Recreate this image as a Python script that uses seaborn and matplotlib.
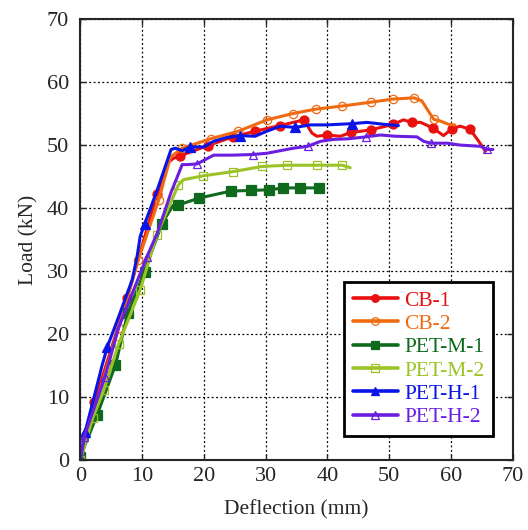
import numpy as np
import pandas as pd
import matplotlib
matplotlib.use("Agg")
import matplotlib.pyplot as plt
import seaborn as sns

# load-deflection curves (mm, kN)
cb1_x = [0, 2.3, 7.6, 12.4, 14.3, 15.1, 16.2, 20.6, 24.7, 28.3, 32.3, 36.2, 37.5, 38.3, 40.0, 42.1, 43.8, 47.0,
         50.7, 52.3, 53.7, 55.1, 57.1, 58.8, 60.2, 61.5, 63.1, 64.5, 65.6]
cb1_y = [0, 9.2, 25.7, 42.2, 47.3, 47.9, 48.3, 49.9, 51.3, 52.2, 53.1, 54.0, 51.9, 51.4, 51.6, 51.4, 52.0, 52.4,
         53.3, 54.0, 53.6, 53.6, 52.7, 51.5, 52.6, 53.0, 52.5, 50.6, 49.0]
cb1_mk = [0, 1, 2, 3, 6, 7, 8, 9, 10, 11, 14, 16, 17, 18, 20, 22, 24, 26]

cb2_x = [0, 2.0, 6.2, 9.4, 12.7, 14.6, 16.5, 21.1, 25.6, 30.2, 34.4, 38.1, 42.4, 47.0, 50.6, 54.0, 55.3, 57.2,
         58.3, 59.6, 60.6]
cb2_y = [0, 7.0, 21.0, 31.8, 41.3, 48.1, 49.5, 51.0, 52.2, 54.0, 55.0, 55.7, 56.2, 56.8, 57.3, 57.5, 57.0, 54.1,
         53.8, 53.3, 53.2]
cb2_mk = [0, 2, 3, 4, 6, 7, 8, 9, 10, 11, 12, 13, 14, 15, 17]

petm1_x = [0, 2.7, 5.7, 7.7, 10.4, 13.2, 15.0, 15.9, 19.3, 24.4, 27.6, 30.6, 32.9, 35.6, 38.7]
petm1_y = [0.5, 7.1, 15.1, 23.4, 29.9, 37.5, 40.4, 40.5, 41.6, 42.7, 42.8, 42.9, 43.2, 43.2, 43.2]
petm1_mk = [0, 1, 2, 3, 4, 5, 7, 8, 9, 10, 11, 12, 13, 14]

petm2_x = [0, 2.0, 3.8, 6.2, 9.7, 12.4, 15.9, 16.7, 19.8, 24.8, 29.4, 33.5, 38.3, 42.4, 43.7]
petm2_y = [0, 6.6, 11.1, 18.4, 27.0, 35.8, 43.7, 44.5, 45.1, 45.8, 46.6, 46.8, 46.8, 46.8, 46.4]
petm2_mk = [0, 1, 2, 3, 4, 5, 6, 8, 9, 10, 11, 12, 13]

peth1_x = [0, 0.8, 2.6, 3.5, 4.4, 6.5, 8.4, 9.2, 9.7, 10.4, 12.5, 14.7, 15.4, 16.5, 17.8, 20.0, 21.6, 23.7, 25.9,
           28.3, 30.2, 32.4, 34.8, 37.2, 39.9, 44.0, 46.4, 49.1, 51.5]
peth1_y = [0, 4.5, 11.4, 14.9, 18.0, 23.5, 28.6, 32.3, 35.5, 37.4, 43.0, 49.3, 49.5, 49.1, 49.7, 49.7, 50.6, 51.2,
           51.5, 51.4, 52.2, 53.0, 52.8, 53.2, 53.2, 53.4, 53.6, 53.3, 53.1]
peth1_mk = [0, 1, 4, 9, 14, 18, 22, 25]

peth2_x = [0, 0.6, 4.0, 6.2, 10.8, 12.5, 14.7, 16.5, 17.3, 18.9, 21.6, 24.7, 27.9, 30.2, 31.8, 34.5, 36.8, 38.9,
           41.0, 43.4, 46.2, 48.6, 51.0, 54.5, 55.6, 56.7, 59.4, 61.5, 64.8, 65.9, 66.8]
peth2_y = [0, 3.6, 13.2, 21.0, 32.3, 36.1, 42.5, 46.9, 46.9, 47.0, 48.4, 48.4, 48.5, 48.7, 49.0, 49.5, 49.8, 50.6,
           50.9, 51.0, 51.3, 51.6, 51.4, 51.3, 50.6, 50.3, 50.3, 50.0, 49.8, 49.3, 49.3]
peth2_mk = [0, 1, 2, 4, 9, 12, 16, 20, 25, 29]

series = [
    ("CB-1", cb1_x, cb1_y, cb1_mk, "#e8110f", "o", True),
    ("CB-2", cb2_x, cb2_y, cb2_mk, "#f06a10", "o", False),
    ("PET-M-1", petm1_x, petm1_y, petm1_mk, "#0f6a1e", "s", True),
    ("PET-M-2", petm2_x, petm2_y, petm2_mk, "#9cc326", "s", False),
    ("PET-H-1", peth1_x, peth1_y, peth1_mk, "#0a14e6", "^", True),
    ("PET-H-2", peth2_x, peth2_y, peth2_mk, "#6a1ee0", "^", False),
]

sns.set_style("ticks")
plt.rcParams["font.family"] = ["Liberation Serif", "DejaVu Serif"]

fig = plt.figure(figsize=(5.28, 5.30), dpi=100)
ax = fig.add_axes([0.152, 0.132, 0.819, 0.832])

for name, xs, ys, mk, col, marker, filled in series:
    df = pd.DataFrame({"x": xs, "y": ys})
    sns.lineplot(data=df, x="x", y="y", ax=ax, sort=False, estimator=None, color=col, lw=2.2,
                 marker=marker, markevery=mk, markersize=6.5 if filled else 6,
                 markerfacecolor=col if filled else "none", markeredgecolor=col,
                 markeredgewidth=0.9, label=name)

ax.set_xlim(0, 70)
ax.set_ylim(0, 70)
ax.set_xticks(np.arange(0, 71, 10))
ax.set_yticks(np.arange(0, 71, 10))
ax.grid(True, color="black", linestyle=(0, (1.5, 2)), linewidth=0.9)
ax.tick_params(direction="in", top=True, right=True, labelsize=16, length=4, width=1)
ax.tick_params(axis="y", pad=8)
ax.tick_params(axis="x", pad=5)
for sp in ax.spines.values():
    sp.set_linewidth(1.5)
    sp.set_linestyle((0, (2, 0.6)))
ax.set_xlabel("Deflection (mm)", fontsize=15.5, labelpad=10)
ax.set_ylabel("Load (kN)", fontsize=15.5, labelpad=6)

leg = ax.legend(loc="lower right", bbox_to_anchor=(0.955, 0.055), fontsize=15.5, frameon=True, fancybox=False,
                handlelength=2.1, handletextpad=0.3, labelspacing=0.15, borderpad=0.4, borderaxespad=0)
leg.get_frame().set_edgecolor("black")
leg.get_frame().set_linewidth(2)
leg.get_frame().set_alpha(1)
for txt, s in zip(leg.get_texts(), series):
    txt.set_color(s[4])
for h in leg.legend_handles:
    h.set_markersize(5.5)
    h.set_linewidth(2.6)

fig.savefig("out.png", dpi=100)
